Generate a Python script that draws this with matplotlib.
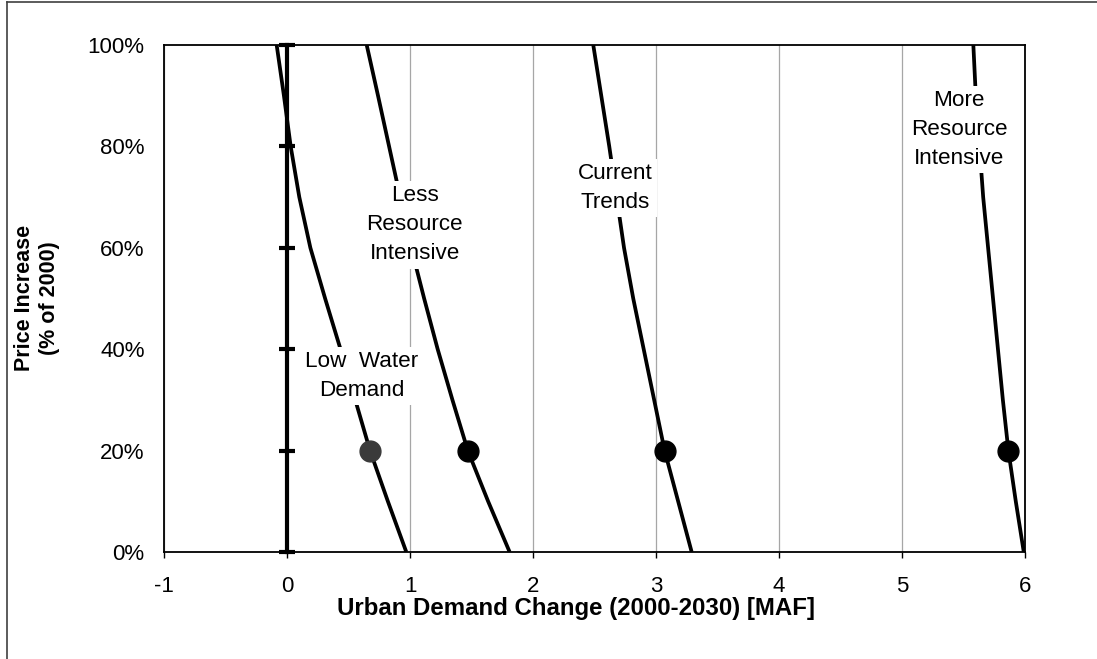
import matplotlib
matplotlib.use('Agg')
import matplotlib.pyplot as plt
from matplotlib.lines import Line2D

plt.rcParams['font.family'] = ['Liberation Sans', 'DejaVu Sans']

# price increase (% of 2000)
price = [0, 10, 20, 30, 40, 50, 60, 70, 80, 90, 100]

# urban demand change (MAF) for each scenario
low_water = [0.97, 0.82, 0.675, 0.555, 0.435, 0.31, 0.19, 0.10, 0.03, -0.025, -0.084]
less_intensive = [1.81, 1.635, 1.47, 1.345, 1.225, 1.115, 1.01, 0.92, 0.83, 0.74, 0.648]
current_trends = [3.29, 3.18, 3.07, 2.985, 2.90, 2.815, 2.74, 2.68, 2.62, 2.555, 2.49]
more_intensive = [5.99, 5.925, 5.865, 5.82, 5.78, 5.74, 5.70, 5.66, 5.63, 5.60, 5.58]

# scenario points at 20% price increase
point_price = 20
point_low = 0.675
point_others = [1.47, 3.07, 5.865]

zero_line_y = [0, 20, 40, 60, 80, 100]

labels = ['Low  Water\nDemand', 'Less\nResource\nIntensive', 'Current\nTrends',
          'More\nResource\nIntensive']
label_x = [0.607, 1.04, 2.67, 5.466]
label_y = [34.7, 64.5, 71.8, 83.3]

xticks = [-1, 0, 1, 2, 3, 4, 5, 6]
yticks = [0, 20, 40, 60, 80, 100]

fig = plt.figure(figsize=(10.97, 6.59), dpi=100)
ax = fig.add_axes([164 / 1097, 1 - 552 / 659, 861 / 1097, 507 / 659])

ax.grid(axis='x', color='#a6a6a6', linewidth=0.9, zorder=0)
ax.set_axisbelow(True)

# vertical reference line at zero with cross ticks
ax.plot([0] * len(zero_line_y), zero_line_y, color='black', linewidth=3, marker='_',
        markersize=12, markeredgewidth=3, zorder=2, clip_on=False)

for xs in [low_water, less_intensive, current_trends, more_intensive]:
    ax.plot(xs, price, color='black', linewidth=2.7, zorder=3,
            solid_capstyle='butt', solid_joinstyle='round')

ax.plot([point_low], [point_price], 'o', color='#3a3a3a', markersize=15, zorder=5)
ax.plot(point_others, [point_price] * len(point_others), 'o', color='black',
        markersize=15, zorder=5)

for t, x, y in zip(labels, label_x, label_y):
    ax.text(x, y, t, ha='center', va='center', fontsize=16.2, linespacing=1.5,
            zorder=4, bbox=dict(facecolor='white', edgecolor='none', pad=3))

ax.set_xlim(-1, 6)
ax.set_ylim(0, 100)
ax.set_xticks(xticks)
ax.set_xticklabels([str(v) for v in xticks])
ax.set_yticks(yticks)
ax.set_yticklabels([f'{v}%' for v in yticks])
ax.tick_params(axis='x', length=4, width=1, pad=13.5, labelsize=16)
ax.tick_params(axis='y', length=0, pad=14, labelsize=16)
for s in ax.spines.values():
    s.set_linewidth(1.3)
    s.set_color('black')

fig.text(576 / 1097, 1 - 608 / 659, 'Urban Demand Change (2000-2030) [MAF]',
         ha='center', va='center', fontsize=17.3, fontweight='bold')
fig.text(37 / 1097, 1 - 298 / 659, 'Price Increase\n(% of 2000)',
         ha='center', va='center', fontsize=15.5, fontweight='bold', rotation=90)

# outer frame (top and left edges visible)
fig.add_artist(Line2D([7 / 1097, 7 / 1097], [0, 1 - 2 / 659], color='#404040',
                      linewidth=1.2, transform=fig.transFigure))
fig.add_artist(Line2D([7 / 1097, 1], [1 - 2 / 659, 1 - 2 / 659], color='#404040',
                      linewidth=1.2, transform=fig.transFigure))

fig.savefig('out.png', dpi=100)
